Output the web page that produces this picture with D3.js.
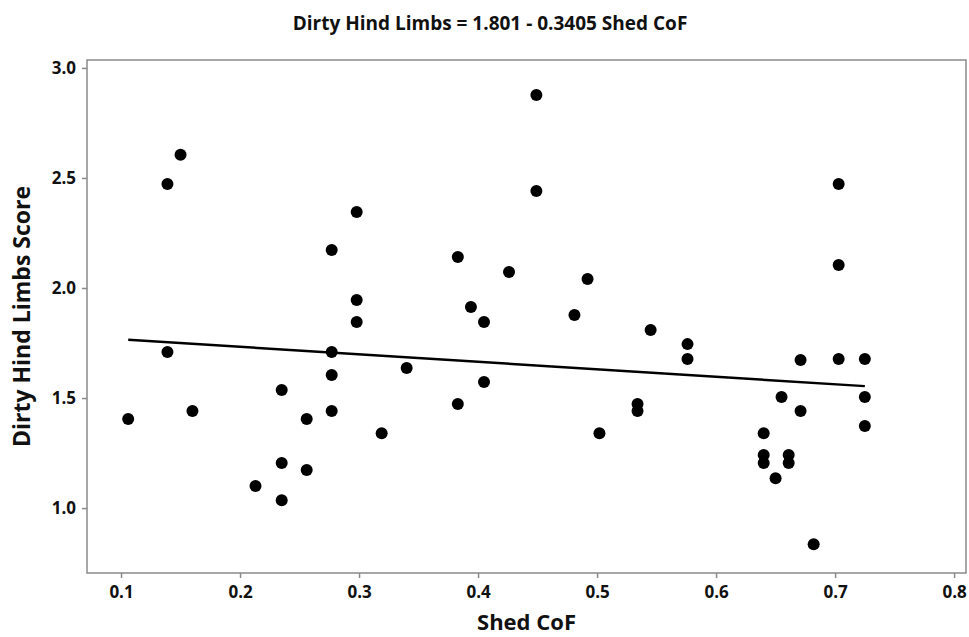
<!DOCTYPE html>
<html>
<head>
<meta charset="utf-8">
<script src="https://cdn.jsdelivr.net/npm/d3@7"></script>
<style>
  body { margin: 0; background: #fff; }
  text { font-family: "Open Sans", "Noto Sans", sans-serif; fill: #111; }
</style>
</head>
<body>
<div class="chart"></div>
<script>
// Shed CoF vs Dirty Hind Limbs Score
var shedCoF = [
    0.106, 0.139, 0.150, 0.139, 0.160, 0.213, 0.235, 0.235, 0.235, 0.256,
    0.256, 0.277, 0.277, 0.277, 0.277, 0.298, 0.298, 0.298, 0.319, 0.340,
    0.383, 0.383, 0.394, 0.405, 0.405, 0.426, 0.449, 0.449, 0.481, 0.492,
    0.502, 0.534, 0.534, 0.545, 0.576, 0.576, 0.640, 0.640, 0.640, 0.650,
    0.655, 0.661, 0.661, 0.671, 0.671, 0.682, 0.703, 0.703, 0.703, 0.725,
    0.725, 0.725
];
var dirtyScore = [
    1.405, 2.473, 2.605, 1.709, 1.441, 1.100, 1.536, 1.205, 1.036, 1.405,
    1.173, 2.173, 1.709, 1.605, 1.441, 2.345, 1.945, 1.845, 1.340, 1.636,
    2.141, 1.473, 1.914, 1.845, 1.573, 2.073, 2.877, 2.441, 1.877, 2.041,
    1.340, 1.473, 1.441, 1.809, 1.745, 1.677, 1.340, 1.241, 1.205, 1.136,
    1.505, 1.241, 1.205, 1.673, 1.441, 0.836, 2.473, 2.105, 1.677, 1.677,
    1.505, 1.373
];
var xTicks = [0.1, 0.2, 0.3, 0.4, 0.5, 0.6, 0.7, 0.8];
var yTicks = [1.0, 1.5, 2.0, 2.5, 3.0];
var intercept = 1.801;
var slope = -0.3405;

var width = 969, height = 637;
var margin = {top: 60, right: 3, bottom: 64, left: 87};

var svg = d3.select(".chart")
    .append("svg")
    .attr("width", width)
    .attr("height", height);

var xScale = d3.scaleLinear()
    .domain([0.0714, 0.81])
    .range([margin.left, width - margin.right]);

var yScale = d3.scaleLinear()
    .domain([0.705, 3.036])
    .range([height - margin.bottom, margin.top]);

// frame
svg.append("rect")
    .attr("x", margin.left)
    .attr("y", margin.top)
    .attr("width", width - margin.right - margin.left)
    .attr("height", height - margin.bottom - margin.top)
    .style("fill", "none")
    .style("stroke", "#8a8a8a")
    .style("stroke-width", 1.5);

function styleAxis(g) {
    g.select(".domain").remove();
    g.selectAll(".tick line").style("stroke", "#8a8a8a").style("stroke-width", 1.5);
    g.selectAll(".tick text")
        .style("font-family", "'Open Sans', sans-serif")
        .style("font-size", "17px")
        .style("font-weight", 700)
        .style("fill", "#111");
}

svg.append("g")
    .attr("transform", "translate(0," + (height - margin.bottom) + ")")
    .call(d3.axisBottom(xScale).tickValues(xTicks).tickSize(5).tickPadding(8)
        .tickFormat(d3.format(".1f")))
    .call(styleAxis);

svg.append("g")
    .attr("transform", "translate(" + margin.left + ",0)")
    .call(d3.axisLeft(yScale).tickValues(yTicks).tickSize(5).tickPadding(6)
        .tickFormat(d3.format(".1f")))
    .call(styleAxis);

// fitted line
var xr = d3.extent(shedCoF);
svg.append("line")
    .attr("x1", xScale(xr[0]))
    .attr("y1", yScale(intercept + slope * xr[0]))
    .attr("x2", xScale(xr[1]))
    .attr("y2", yScale(intercept + slope * xr[1]))
    .style("stroke", "#000")
    .style("stroke-width", 2.5);

svg.selectAll("circle.pt")
    .data(shedCoF)
    .enter()
    .append("circle")
    .attr("class", "pt")
    .attr("cx", function (d) { return xScale(d); })
    .attr("cy", function (d, i) { return yScale(dirtyScore[i]); })
    .attr("r", 6)
    .style("fill", "#000");

// titles
svg.append("text")
    .attr("x", 490)
    .attr("y", 30)
    .attr("text-anchor", "middle")
    .style("font-size", "19px")
    .style("font-weight", 700)
    .text("Dirty Hind Limbs = 1.801 - 0.3405 Shed CoF");

svg.append("text")
    .attr("x", (margin.left + width - margin.right) / 2)
    .attr("y", 630)
    .attr("text-anchor", "middle")
    .style("font-size", "22px")
    .style("font-weight", 700)
    .text("Shed CoF");

svg.append("text")
    .attr("transform", "translate(22," + ((margin.top + height - margin.bottom) / 2) + ") rotate(-90)")
    .attr("text-anchor", "middle")
    .attr("dy", "0.35em")
    .style("font-size", "23px")
    .style("font-weight", 700)
    .text("Dirty Hind Limbs Score");
</script>
</body>
</html>
